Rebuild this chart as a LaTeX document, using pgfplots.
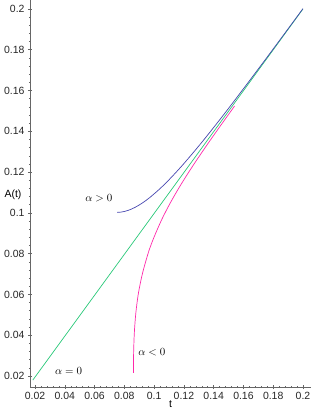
\documentclass[border=0pt]{standalone}
\usepackage{pgfplots}
\pgfplotsset{compat=1.18}
\usepackage{fontspec}
\setmainfont{Liberation Sans}
\definecolor{cblue}{RGB}{70,70,175}
\definecolor{cgreen}{RGB}{40,200,120}
\definecolor{cmag}{RGB}{255,40,170}
\begin{document}
\begin{tikzpicture}
\begin{axis}[
  name=ax,
  scale only axis,
  width=281bp, height=387bp,
  xmin=0.0166, xmax=0.2054,
  ymin=0.0146, ymax=0.2044,
  axis lines=left,
  axis line style={-, gray!80!black, line width=0.6pt},
  xtick={0.02,0.04,...,0.2}, ytick={0.02,0.04,...,0.2},
  minor tick num=4,
  tick align=center,
  major tick length=4bp, minor tick length=2bp,
  tick style={gray!80!black, line width=0.5pt},
  scaled ticks=false,
  xticklabel style={/pgf/number format/fixed, /pgf/number format/precision=2},
  yticklabel style={/pgf/number format/fixed, /pgf/number format/precision=2},
  /pgf/number format/assume math mode=true,
  ticklabel style={font=\fontsize{10.5}{12}\selectfont, text=black!85},
  xlabel={t}, xlabel style={font=\fontsize{10.5}{12}\selectfont, yshift=6bp},
  clip=false,
]
% alpha = 0
\addplot[cgreen, line width=0.7pt] coordinates {(0.0185,0.018) (0.2,0.2)};
% alpha > 0
\addplot[cblue, line width=0.7pt, smooth, tension=0.5] coordinates {
  (0.075205,0.100254) (0.077705,0.100372) (0.080408,0.100751) (0.083110,0.101370)
  (0.087164,0.102689) (0.092097,0.104842) (0.096624,0.107256) (0.103381,0.111499)
  (0.110138,0.116334) (0.119125,0.123449) (0.130409,0.133164) (0.141693,0.143448)
  (0.152910,0.154028) (0.170950,0.171494) (0.184464,0.184783) (0.200000,0.200172)};
% alpha < 0
\addplot[cmag, line width=0.7pt, smooth, tension=0.5] coordinates {
  (0.086151,0.021471) (0.086219,0.031275) (0.086692,0.041078) (0.087706,0.050882)
  (0.089462,0.060687) (0.092233,0.070490) (0.096017,0.080294) (0.098381,0.085197)
  (0.101084,0.090099) (0.105408,0.097173) (0.110138,0.103912) (0.114868,0.110040)
  (0.120273,0.116552) (0.127030,0.124192) (0.135814,0.133633) (0.145274,0.143450)
  (0.154058,0.152401)};
\node[font=\fontsize{10.5}{12}\selectfont] at (axis cs:0.0628,0.1073) {$\alpha>0$};
\node[font=\fontsize{10.5}{12}\selectfont] at (axis cs:0.0426,0.0225) {$\alpha=0$};
\node[font=\fontsize{10.5}{12}\selectfont] at (axis cs:0.0985,0.0318) {$\alpha<0$};
\node[font=\fontsize{10.5}{12}\selectfont] at (rel axis cs:0,0.496) [xshift=-17bp] {A(t)};
\end{axis}
\pgfresetboundingbox
\path[use as bounding box] ([xshift=-30bp,yshift=-25bp]ax.south west) rectangle (ax.north east);
\end{tikzpicture}
\end{document}
